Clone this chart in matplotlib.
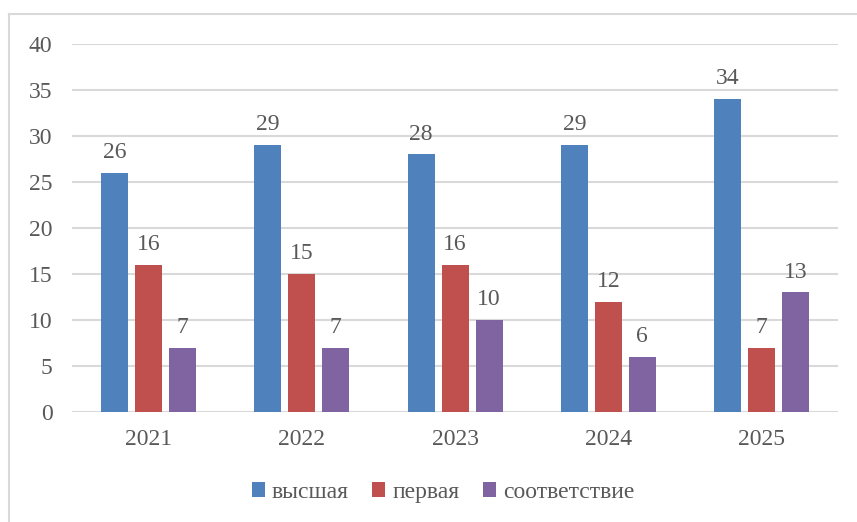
import numpy as np
import matplotlib
matplotlib.use("Agg")
import matplotlib.pyplot as plt
from matplotlib.lines import Line2D

plt.rcParams["font.family"] = ["Liberation Serif", "DejaVu Serif"]

# Data
years = ["2021", "2022", "2023", "2024", "2025"]
vysshaya = [26, 29, 28, 29, 34]
pervaya = [16, 15, 16, 12, 7]
sootv = [7, 7, 10, 6, 13]
series_names = ["высшая", "первая", "соответствие"]
colors = ["#4F81BD", "#C0504D", "#8064A2"]
text_color = "#595959"

fig = plt.figure(figsize=(8.57, 5.22), dpi=100)
ax = fig.add_axes([0.084, 0.2107, 0.894, 0.705])

x = np.arange(len(years))
w = 0.176
step = 0.222
for k, (vals, name, c) in enumerate(zip([vysshaya, pervaya, sootv], series_names, colors)):
    pos = x + (k - 1) * step
    ax.bar(pos, vals, width=w, color=c, label=name, zorder=3)
    for p, v in zip(pos, vals):
        ax.annotate(str(v), (p, v), xytext=(0, 7), textcoords="offset points",
                    ha="center", va="bottom", fontsize=17, color=text_color)

ax.set_xlim(-0.5, len(years) - 0.5)
ax.set_ylim(0, 40)
ax.set_yticks(range(0, 41, 5))
ax.set_xticks(x)
ax.set_xticklabels(years)
ax.grid(axis="y", color="#D9D9D9", linewidth=1.5, zorder=0)
ax.tick_params(axis="both", length=0, labelsize=17, labelcolor=text_color)
ax.tick_params(axis="y", pad=14)
ax.tick_params(axis="x", pad=12)
for s in ax.spines.values():
    s.set_visible(False)

leg = fig.legend(loc="center", bbox_to_anchor=(0.517, 0.057), ncol=3, frameon=False,
                 fontsize=17, handlelength=0.55, handleheight=0.55, handletextpad=0.3,
                 columnspacing=1.0, labelcolor=text_color)

# chart border (top and left visible)
fig.add_artist(Line2D([0.011, 1.0], [1 - 14 / 522, 1 - 14 / 522], color="#D9D9D9", linewidth=1.5))
fig.add_artist(Line2D([0.011, 0.011], [0, 1 - 14 / 522], color="#D9D9D9", linewidth=1.5))

fig.savefig("out.png", dpi=100)
